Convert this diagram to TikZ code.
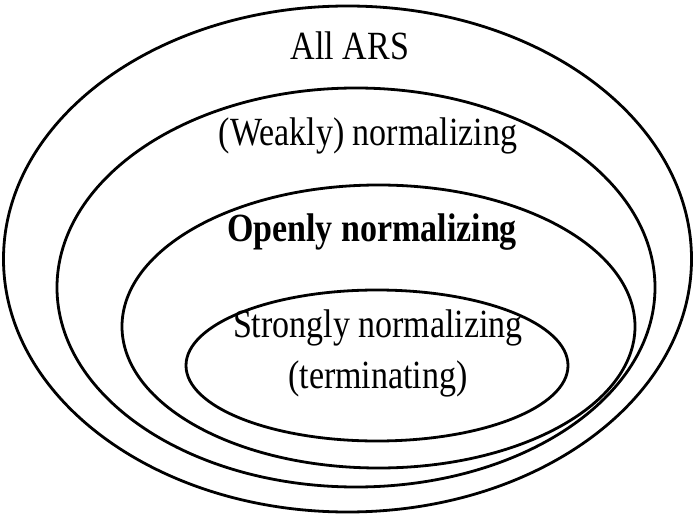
\documentclass[tikz,border=0pt]{standalone}
\usepackage{fontspec}
\setmainfont[FakeStretch=0.85]{Liberation Serif}
\usetikzlibrary{
  calc,
}

\tikzset{
  setline/.style={line width=2.8pt},
  setlabel/.style={inner sep=0pt, align=center, font=\fontsize{40}{51}\selectfont},
}

\begin{document}
\begin{tikzpicture}[x=1pt,y=-1pt]
  \useasboundingbox (0,0) rectangle (695,518);

  % nested sets, outermost first: name/centre/radii
  \foreach \n/\cx/\cy/\rx/\ry in {all/347.5/259/344/253,
      weak/356/287.5/299/199.5,
      open/378.5/326.5/256.5/141.5,
      strong/377/365.5/191/75.5}{
      \coordinate (c\n) at (\cx,\cy);
      \draw[setline] (c\n) ellipse [x radius=\rx, y radius=\ry];
    }

  \node[setlabel] (lall) at (350,46) {All ARS};
  \node[setlabel] (lweak) at (368,136) {(Weakly) normalizing};
  \node[setlabel,font=\fontsize{40}{51}\selectfont\bfseries] (lopen) at (372,232) {Openly normalizing};
  \node[setlabel] (lstrong) at (378,353) {Strongly normalizing\\(terminating)};
\end{tikzpicture}
\end{document}
